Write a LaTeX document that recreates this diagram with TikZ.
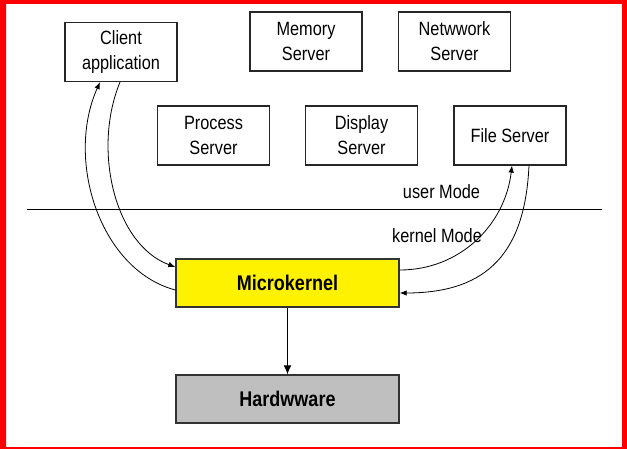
\documentclass[tikz,border=0pt]{standalone}
\usepackage{fontspec}
\usepackage{graphicx}
\setmainfont{Liberation Sans}
\usetikzlibrary{arrows.meta}
\newcommand{\tallt}[1]{\scalebox{1}[1.18]{#1}}
\begin{document}
\begin{tikzpicture}[x=1pt,y=-1pt,
  box/.style={draw=black!85,line width=1.2pt,minimum width=112pt,minimum height=59pt,inner sep=0pt,align=center,font=\fontsize{16.3}{25}\selectfont},
  kbox/.style={draw=black!80,line width=1.4pt,minimum width=223pt,minimum height=48pt,inner sep=0pt,font=\fontsize{18}{22}\selectfont\bfseries},
  link/.style={line width=0.8pt,-{Latex[length=7pt,width=5.5pt]}},
  down/.style={line width=1.2pt,-{Latex[length=9pt,width=8pt]}},
  lbl/.style={font=\fontsize{16.3}{20}\selectfont,inner sep=0pt}]
\useasboundingbox (0,0) rectangle (627,449);
\fill[red,even odd rule] (0,0) rectangle (627,449) (6,4) rectangle (622,447);

\node[box] (cl) at (121,52) {\tallt{Client}\\\tallt{application}};
\node[box] (mem) at (306,41.5) {\tallt{Memory}\\\tallt{Server}};
\node[box] (net) at (454.5,41.5) {\tallt{Netwwork}\\\tallt{Server}};
\node[box] (proc) at (213.5,135.5) {\tallt{Process}\\\tallt{Server}};
\node[box] (disp) at (361.5,135.5) {\tallt{Display}\\\tallt{Server}};
\node[box] (fs) at (510,135.5) {\tallt{File Server}};
\node[kbox,fill=yellow] (mk) at (287.5,283) {\tallt{Microkernel}};
\node[kbox,fill=black!25] (hw) at (287.5,399) {\tallt{Hardwware}};

\draw[line width=1pt] (27,210) -- (602,210);
\node[lbl] (um) at (441.5,192) {\tallt{user Mode}};
\node[lbl] (km) at (437,236) {\tallt{kernel Mode}};

\draw[link] ([yshift=-7pt]mk.west) .. controls (100,270) and (65,160) .. ([xshift=-21pt]cl.south);
\draw[link] ([xshift=-1pt]cl.south) .. controls (92,150) and (115,245) .. ([yshift=16pt]mk.west);
\draw[link] ([yshift=13pt]mk.east) .. controls (460,270) and (505,225) .. ([xshift=2pt]fs.south);
\draw[link] ([xshift=19pt]fs.south) .. controls (525,250) and (490,293) .. ([yshift=-10pt]mk.east);
\draw[down] (mk.south) -- (hw.north);
\end{tikzpicture}
\end{document}
